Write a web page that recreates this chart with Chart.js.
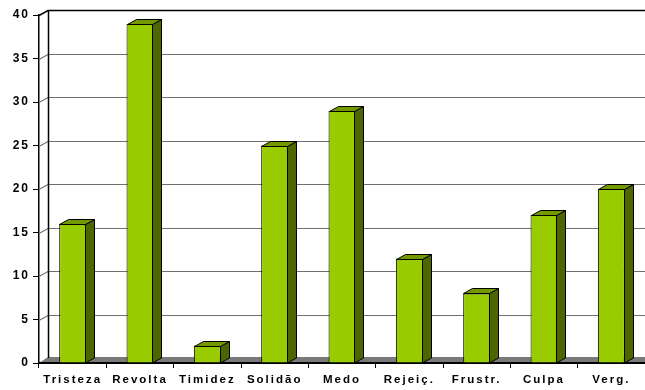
<!DOCTYPE html>
<html>
<head>
<meta charset="utf-8">
<script src="https://cdn.jsdelivr.net/npm/chart.js@4/dist/chart.umd.min.js"></script>
<style>
    html, body { margin: 0; padding: 0; background: #fff; }
    #wrap { width: 645px; height: 390px; }
</style>
</head>
<body>
<div id="wrap"><canvas id="barChart"></canvas></div>
<script>
var categories = ["Tristeza", "Revolta", "Timidez", "Solidão", "Medo", "Rejeiç.", "Frustr.", "Culpa", "Verg."];
var counts = [16, 39, 2, 25, 29, 12, 8, 17, 20];
var yMin = 0;
var yMax = 40;
var yStep = 5;

// depth of the fake 3d
var DX = 9;
var DY = 5;

var frontColor = '#99CC00';
var sideColor = '#4D6600';
var topColor = '#739900';

// back wall, gridlines and floor, drawn behind the bars
var wallPlugin = {
    id: 'wall',
    beforeDatasetsDraw: function (chart) {
        var ctx = chart.ctx;
        var area = chart.chartArea;
        var y = chart.scales.y;
        var left = area.left;
        var right = chart.width;
        var y0 = Math.round(y.getPixelForValue(yMin));
        ctx.save();

        // floor
        ctx.fillStyle = '#7a7a7a';
        ctx.beginPath();
        ctx.moveTo(left, y0);
        ctx.lineTo(left + DX, y0 - DY - 1);
        ctx.lineTo(right, y0 - DY - 1);
        ctx.lineTo(right, y0);
        ctx.closePath();
        ctx.fill();

        // gridlines on the back wall
        for (var v = yMin + yStep; v <= yMax; v += yStep) {
            var py = Math.round(y.getPixelForValue(v)) + 0.5;
            ctx.strokeStyle = v === yMax ? '#000' : '#707070';
            ctx.lineWidth = v === yMax ? 1.5 : 1.2;
            ctx.beginPath();
            ctx.moveTo(left, py);
            ctx.lineTo(left + DX, py - DY);
            ctx.lineTo(right, py - DY);
            ctx.stroke();
        }

        // left edge of the wall
        var top = Math.round(y.getPixelForValue(yMax)) - DY;
        ctx.strokeStyle = '#000';
        ctx.lineWidth = 1.5;
        ctx.beginPath();
        ctx.moveTo(left + DX + 0.5, top);
        ctx.lineTo(left + DX + 0.5, y0 - DY);
        ctx.stroke();

        // front edge of the floor
        ctx.lineWidth = 2;
        ctx.beginPath();
        ctx.moveTo(left, y0);
        ctx.lineTo(right, y0);
        ctx.stroke();
        ctx.restore();
    }
};

// side and top faces of each bar
var boxPlugin = {
    id: 'boxes',
    afterDatasetsDraw: function (chart) {
        var ctx = chart.ctx;
        var meta = chart.getDatasetMeta(0);
        ctx.save();
        ctx.strokeStyle = '#000';
        ctx.lineWidth = 1;
        meta.data.forEach(function (bar) {
            var l = Math.round(bar.x - bar.width / 2) + 0.5;
            var r = Math.round(bar.x + bar.width / 2) - 0.5;
            var t = Math.round(bar.y) + 0.5;
            var b = Math.round(bar.base);

            ctx.fillStyle = sideColor;
            ctx.beginPath();
            ctx.moveTo(r, t);
            ctx.lineTo(r + DX, t - DY);
            ctx.lineTo(r + DX, b - DY);
            ctx.lineTo(r, b);
            ctx.closePath();
            ctx.fill();
            ctx.stroke();

            ctx.fillStyle = topColor;
            ctx.beginPath();
            ctx.moveTo(l, t);
            ctx.lineTo(l + DX, t - DY);
            ctx.lineTo(r + DX, t - DY);
            ctx.lineTo(r, t);
            ctx.closePath();
            ctx.fill();
            ctx.stroke();
        });
        ctx.restore();
    }
};

// spaced out lettering like the old office charts
var spacingPlugin = {
    id: 'spacing',
    beforeDraw: function (chart) {
        chart.ctx.letterSpacing = '2px';
    }
};

var ctxB = document.getElementById('barChart').getContext('2d');
var myBarChart = new Chart(ctxB, {
    type: 'bar',
    data: {
        labels: categories,
        datasets: [{
            data: counts,
            backgroundColor: frontColor,
            borderColor: '#000',
            borderWidth: 1,
            barPercentage: 0.8,
            categoryPercentage: 0.5
        }]
    },
    options: {
        responsive: true,
        maintainAspectRatio: false,
        animation: false,
        layout: {
            padding: { top: 15, right: 0, left: 0, bottom: 0 }
        },
        plugins: {
            legend: { display: false },
            tooltip: { enabled: false }
        },
        scales: {
            x: {
                offset: true,
                grid: {
                    offset: true,
                    drawOnChartArea: false,
                    drawTicks: true,
                    tickLength: 5,
                    color: '#000'
                },
                border: { display: false },
                ticks: {
                    color: '#000',
                    padding: 5,
                    maxRotation: 0,
                    autoSkip: false,
                    font: { family: 'Liberation Sans, Arial', size: 11.5, weight: 'bold' }
                },
                afterFit: function (scale) {
                    scale.height = 27;
                }
            },
            y: {
                min: yMin,
                max: yMax,
                ticks: {
                    stepSize: yStep,
                    color: '#000',
                    padding: 3,
                    font: { family: 'Liberation Sans, Arial', size: 12, weight: 'bold' }
                },
                grid: {
                    drawOnChartArea: false,
                    drawTicks: true,
                    tickLength: 6,
                    color: '#000'
                },
                border: { display: true, color: '#000', width: 1.5 },
                afterFit: function (scale) {
                    scale.width = 39;
                }
            }
        }
    },
    plugins: [spacingPlugin, wallPlugin, boxPlugin]
});
</script>
</body>
</html>
